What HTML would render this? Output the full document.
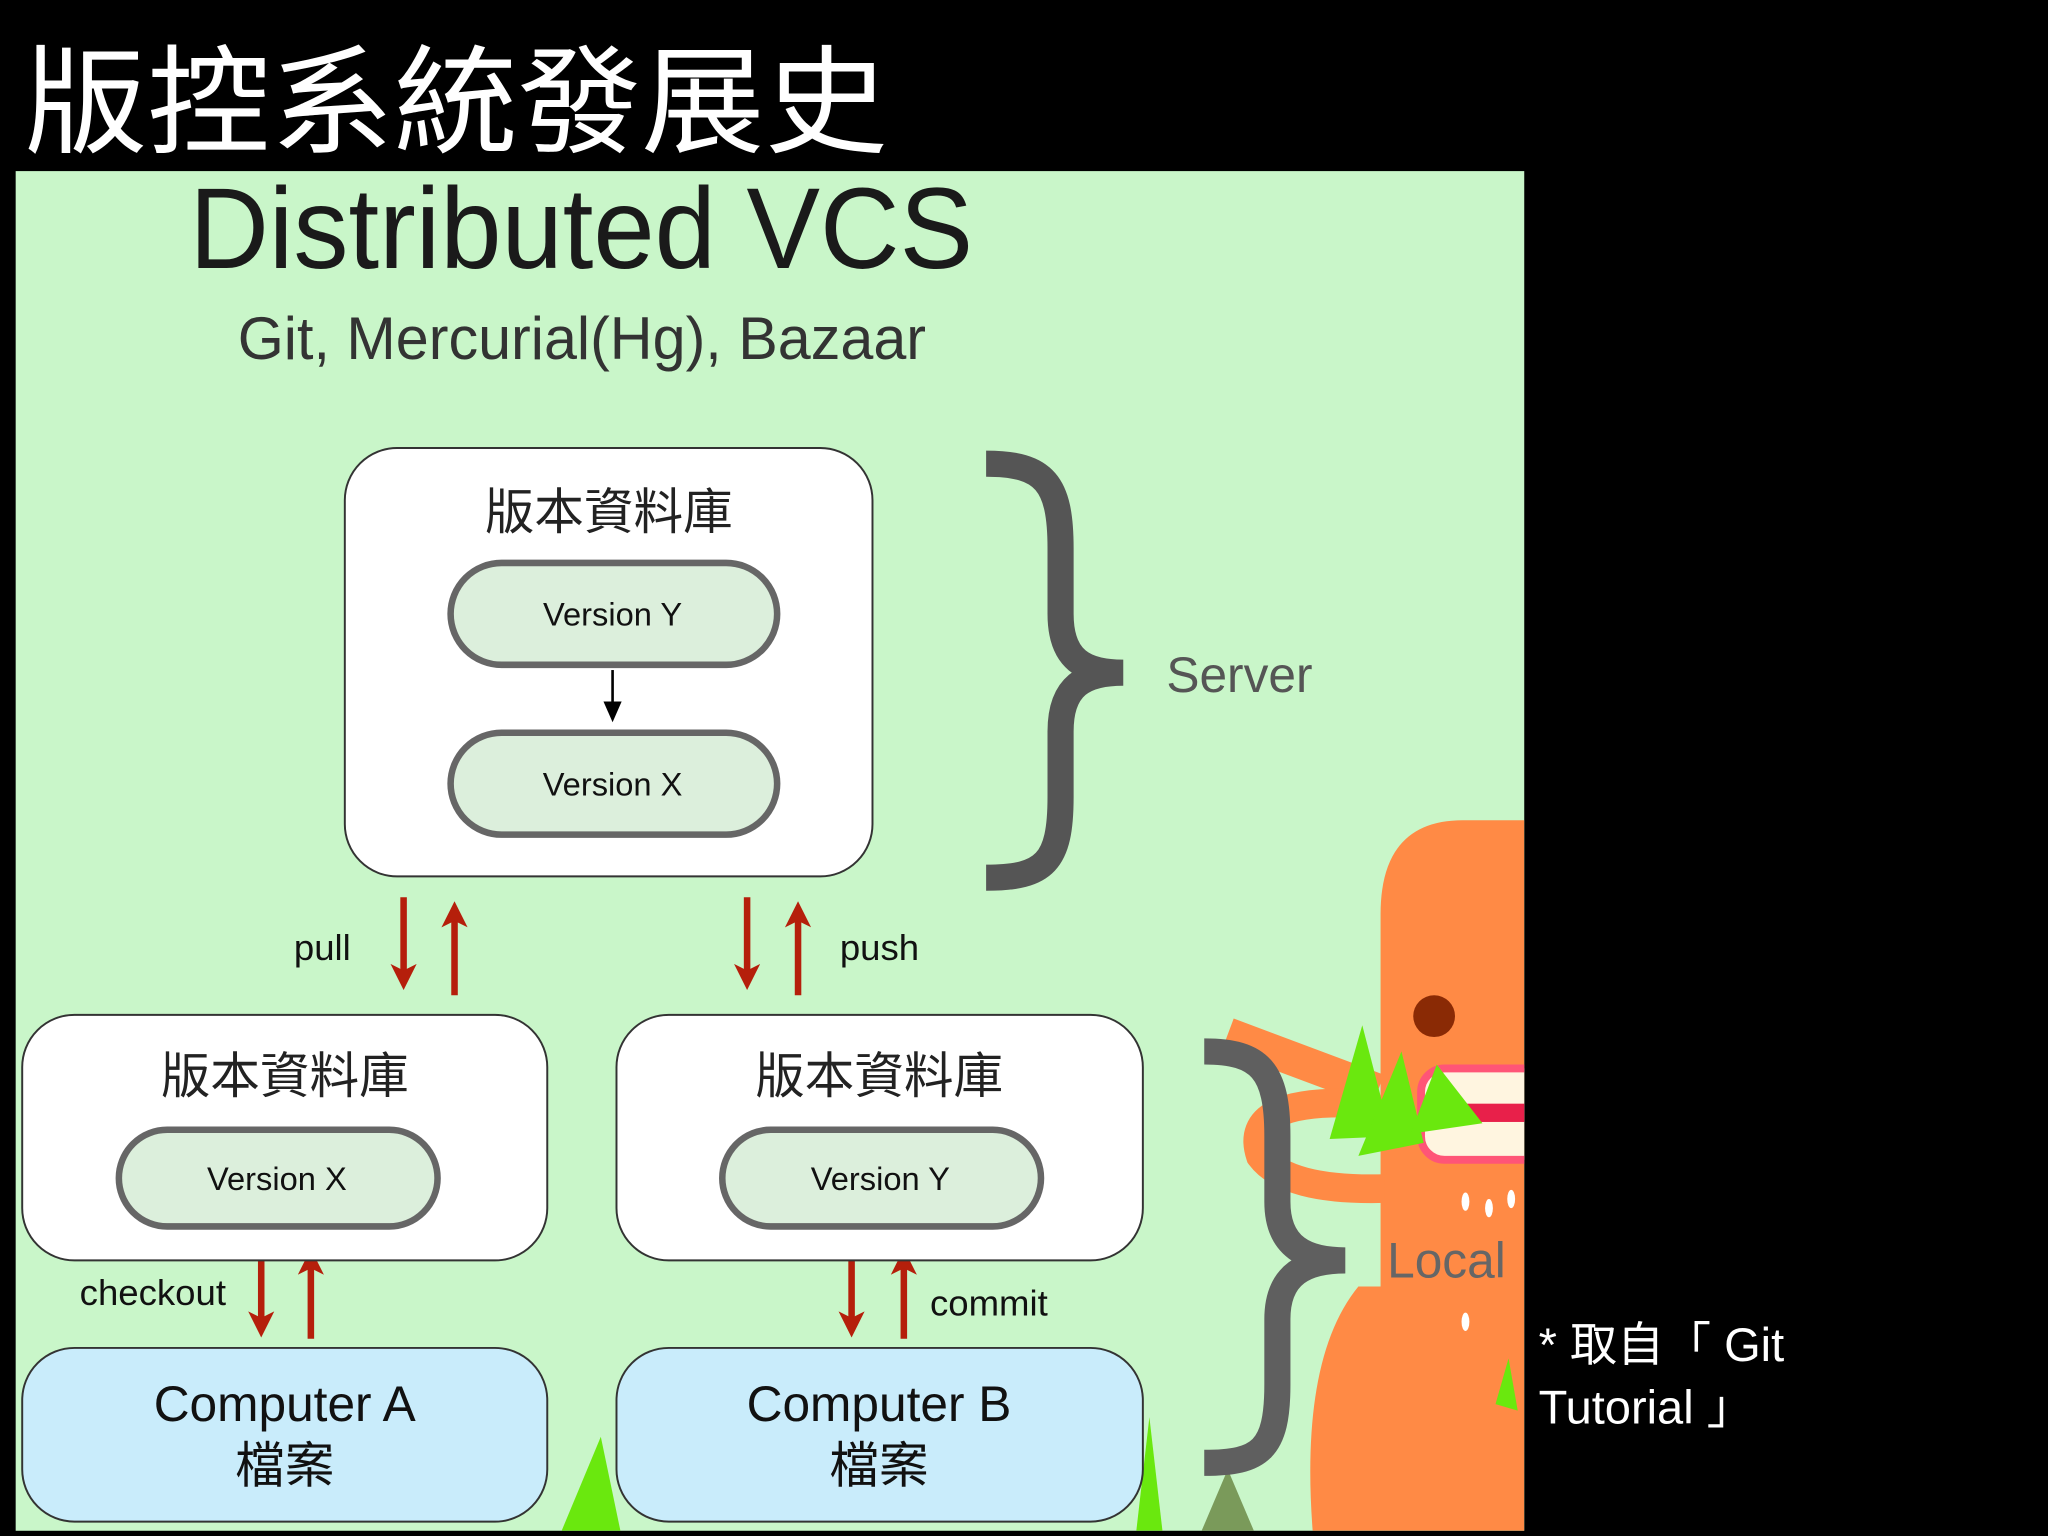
<!DOCTYPE html>
<html><head><meta charset="utf-8"><style>
html,body{margin:0;padding:0;background:#000;width:2048px;height:1536px;overflow:hidden}
svg{display:block}
text{font-family:"Liberation Sans","Noto Sans CJK TC",sans-serif}
</style></head><body>
<svg width="2048" height="1536" viewBox="0 0 1568 1176" xmlns="http://www.w3.org/2000/svg">
<defs>
<marker id="rh" markerWidth="4" markerHeight="4" refX="2" refY="2" orient="auto" markerUnits="strokeWidth"><path d="M0,0 L4,2 L0,4 L1,2 Z" fill="#b51f0b"/></marker>
<marker id="bh" markerWidth="8" markerHeight="8" refX="4" refY="4" orient="auto" markerUnits="strokeWidth"><path d="M0,0.5 L8,4 L0,7.5 Z" fill="#000"/></marker>
<clipPath id="pc"><rect x="12" y="131" width="1155" height="1041"/></clipPath>
</defs>
<rect width="1568" height="1176" fill="#000"/>
<text x="18" y="110" font-size="90" fill="#fff" textLength="662" lengthAdjust="spacingAndGlyphs">版控系統發展史</text>
<rect x="12" y="131" width="1155" height="1041" fill="#c9f6c9"/>
<g clip-path="url(#pc)">
<g fill="#ff8a45">
<path d="M1057,700 Q1057,628 1120,628 L1167,628 L1167,1172 L1005,1172 Q995,1040 1040,985 L1057,985 Z"/>
</g>
<path d="M940,792 L1055,835" stroke="#ff8a45" stroke-width="26" fill="none"/>
<path d="M1045,845 Q950,840 965,885 Q985,912 1060,910" stroke="#ff8a45" stroke-width="22" fill="none"/>
<circle cx="1098" cy="778" r="16" fill="#8a2a05"/>
<rect x="1088" y="818" width="100" height="70" rx="18" fill="#fff5e0" stroke="#ff5577" stroke-width="6"/>
<rect x="1100" y="845" width="70" height="14" fill="#e8204a"/>
<g fill="#6ae80e">
<polygon points="1043,785 1065,870 1018,872"/>
<polygon points="1073,805 1090,875 1040,885"/>
<polygon points="1100,815 1135,860 1080,868"/>
<polygon points="1155,1040 1162,1080 1145,1075"/>
<polygon points="460,1100 475,1172 430,1172"/>
<polygon points="880,1085 890,1172 870,1172"/>
</g>
<g fill="#7a9a5a"><polygon points="940,1125 960,1172 920,1172"/></g>
<g fill="#fff"><ellipse cx="1122" cy="920" rx="3" ry="7"/><ellipse cx="1140" cy="925" rx="3" ry="7"/><ellipse cx="1157" cy="918" rx="3" ry="7"/><ellipse cx="1122" cy="1012" rx="3" ry="7"/></g>
</g>
<text x="145" y="205" font-size="88" fill="#1a1a1a" textLength="600" lengthAdjust="spacingAndGlyphs">Distributed VCS</text>
<text x="182" y="275" font-size="46" fill="#333" textLength="527" lengthAdjust="spacingAndGlyphs">Git, Mercurial(Hg), Bazaar</text>
<rect x="264" y="343" width="404" height="328" rx="40" fill="#fff" stroke="#333" stroke-width="1.5"/>
<text x="466" y="405" font-size="38" text-anchor="middle" fill="#222">版本資料庫</text>
<rect x="345" y="431" width="250" height="78" rx="39" fill="#dcefdc" stroke="#666" stroke-width="5"/>
<text x="469" y="479" font-size="25" text-anchor="middle" fill="#111">Version Y</text>
<line x1="469" y1="513" x2="469" y2="545" stroke="#000" stroke-width="2" marker-end="url(#bh)"/>
<rect x="345" y="561" width="250" height="78" rx="39" fill="#dcefdc" stroke="#666" stroke-width="5"/>
<text x="469" y="609" font-size="25" text-anchor="middle" fill="#111">Version X</text>
<path d="M755,355 C800,355 812,370 812,420 L812,470 C812,505 830,515 860,515 C830,515 812,525 812,560 L812,610 C812,660 800,672 755,672" stroke="#555" stroke-width="20" fill="none"/>
<text x="893" y="530" font-size="38" fill="#555">Server</text>
<g stroke="#b51f0b" stroke-width="5" fill="none">
<line x1="309" y1="687" x2="309" y2="748" marker-end="url(#rh)"/>
<line x1="348" y1="762" x2="348" y2="700" marker-end="url(#rh)"/>
<line x1="572" y1="687" x2="572" y2="748" marker-end="url(#rh)"/>
<line x1="611" y1="762" x2="611" y2="700" marker-end="url(#rh)"/>
<line x1="200" y1="955" x2="200" y2="1014" marker-end="url(#rh)"/>
<line x1="238" y1="1025" x2="238" y2="966" marker-end="url(#rh)"/>
<line x1="652" y1="962" x2="652" y2="1014" marker-end="url(#rh)"/>
<line x1="692" y1="1025" x2="692" y2="966" marker-end="url(#rh)"/>
</g>
<text x="225" y="735" font-size="28" fill="#111">pull</text>
<text x="643" y="735" font-size="28" fill="#111">push</text>
<text x="61" y="999" font-size="28" fill="#111">checkout</text>
<text x="712" y="1007" font-size="28" fill="#111">commit</text>
<rect x="17" y="777" width="402" height="188" rx="40" fill="#fff" stroke="#333" stroke-width="1.5"/>
<text x="218" y="837" font-size="38" text-anchor="middle" fill="#222">版本資料庫</text>
<rect x="91" y="865" width="244" height="74" rx="37" fill="#dcefdc" stroke="#666" stroke-width="5"/>
<text x="212" y="911" font-size="25" text-anchor="middle" fill="#111">Version X</text>
<rect x="472" y="777" width="403" height="188" rx="40" fill="#fff" stroke="#333" stroke-width="1.5"/>
<text x="673" y="837" font-size="38" text-anchor="middle" fill="#222">版本資料庫</text>
<rect x="553" y="865" width="244" height="74" rx="37" fill="#dcefdc" stroke="#666" stroke-width="5"/>
<text x="674" y="911" font-size="25" text-anchor="middle" fill="#111">Version Y</text>
<rect x="17" y="1032" width="402" height="133" rx="40" fill="#c9ecfb" stroke="#333" stroke-width="1.5"/>
<text x="218" y="1088" font-size="38" text-anchor="middle" fill="#111">Computer A</text>
<text x="218" y="1135" font-size="38" text-anchor="middle" fill="#111">檔案</text>
<rect x="472" y="1032" width="403" height="133" rx="40" fill="#c9ecfb" stroke="#333" stroke-width="1.5"/>
<text x="673" y="1088" font-size="38" text-anchor="middle" fill="#111">Computer B</text>
<text x="673" y="1135" font-size="38" text-anchor="middle" fill="#111">檔案</text>
<path d="M922,805 C965,805 978,820 978,870 L978,920 C978,955 1000,965 1030,965 C1000,965 978,975 978,1010 L978,1060 C978,1110 965,1120 922,1120" stroke="#5f5f5f" stroke-width="20" fill="none"/>
<text x="1062" y="978" font-size="38" fill="#666">Local</text>
<text x="1178" y="1042" font-size="36" fill="#fff">*  取自「 Git</text>
<text x="1178" y="1090" font-size="36" fill="#fff">Tutorial 」</text>
</svg>
</body></html>
